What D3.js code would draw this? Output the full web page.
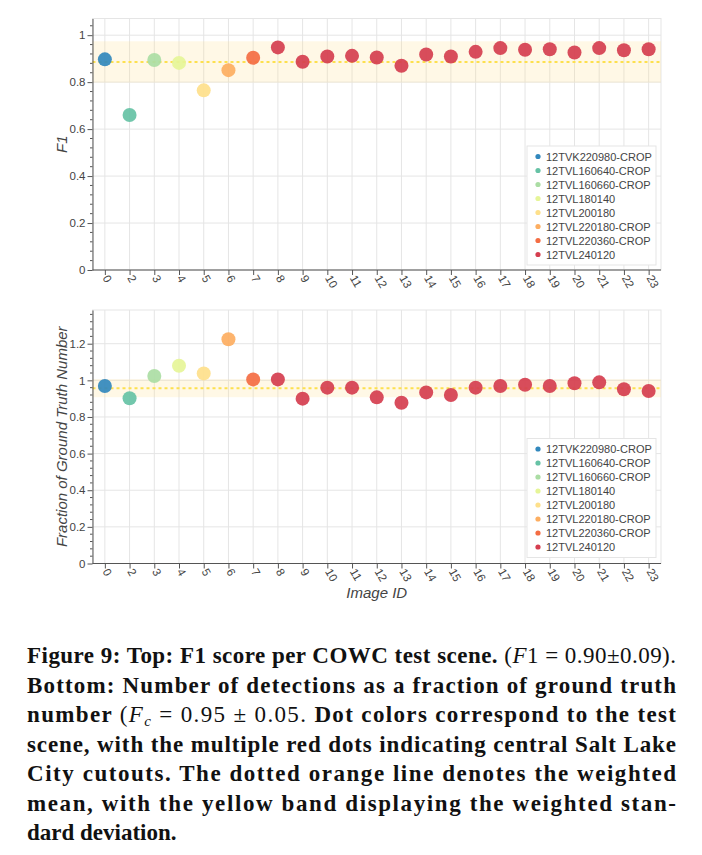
<!DOCTYPE html>
<html><head><meta charset="utf-8">
<script src="https://cdn.jsdelivr.net/npm/d3@7"></script>
<style>body{margin:0;background:#fff}</style></head>
<body><svg id="c" width="702" height="855"></svg>
<script>
const imageIds = ["0","2","3","4","5","6","7","8","9","10","11","12","13","14","15","16","17","18","19","20","21","22","23"];
const sceneNames = ["12TVK220980-CROP","12TVL160640-CROP","12TVL160660-CROP","12TVL180140","12TVL200180","12TVL220180-CROP","12TVL220360-CROP","12TVL240120"];
const sceneColors = ["#3288bd","#66c2a5","#abdda4","#e6f598","#fee08b","#fdae61","#f46d43","#d53e4f"];
const sceneOfImage = [0,1,2,3,4,5,6,7,7,7,7,7,7,7,7,7,7,7,7,7,7,7,7];
const f1Scores = [0.897,0.660,0.894,0.882,0.765,0.851,0.904,0.948,0.887,0.909,0.912,0.905,0.870,0.918,0.909,0.929,0.945,0.938,0.940,0.926,0.945,0.936,0.940];
const gtFractions = [0.969,0.902,1.024,1.080,1.038,1.224,1.005,1.005,0.900,0.960,0.960,0.907,0.878,0.934,0.920,0.960,0.969,0.976,0.969,0.984,0.989,0.951,0.942];
const f1MeanStd = [0.886, 0.088];
const fcMeanStd = [0.957, 0.049];
const yTicksTop = [0,0.2,0.4,0.6,0.8,1];
const yTicksBottom = [0,0.2,0.4,0.6,0.8,1,1.2];

const svg = d3.select("#c");
const X0 = 92.5, X1 = 661;
const font = "'Liberation Sans', Arial, sans-serif";
const x = d3.scalePoint().domain(imageIds).range([X0, X1]).padding(0.5);

function panel(o){
  const y = d3.scaleLinear().domain([0, o.ymax]).range([o.bottom, o.top]);
  const g = svg.append("g");
  g.selectAll(".vg").data(imageIds).join("line")
    .attr("x1", d=>x(d)).attr("x2", d=>x(d)).attr("y1", o.top).attr("y2", o.bottom)
    .attr("stroke", "#e5e5e5").attr("stroke-width", 1);
  g.selectAll(".hg").data(o.ticks).join("line")
    .attr("x1", X0).attr("x2", X1).attr("y1", d=>y(d)).attr("y2", d=>y(d))
    .attr("stroke", "#e5e5e5").attr("stroke-width", 1);
  g.append("rect").attr("x", X0).attr("y", o.top).attr("width", X1-X0).attr("height", o.bottom-o.top)
    .attr("fill","none").attr("stroke","#e5e5e5");
  const [m, s] = o.ms;
  g.append("rect").attr("x", X0).attr("width", X1-X0)
    .attr("y", y(m+s)).attr("height", y(m-s)-y(m+s))
    .attr("fill", "#fee08b").attr("fill-opacity", 0.22);
  g.append("line").attr("x1", X0).attr("x2", X1).attr("y1", y(m)).attr("y2", y(m))
    .attr("stroke", "#fde04f").attr("stroke-width", 2).attr("stroke-dasharray", "3,3");
  g.selectAll(".dot").data(o.values).join("circle")
    .attr("cx", (d,i)=>x(imageIds[i])).attr("cy", d=>y(d)).attr("r", 7)
    .attr("fill", (d,i)=>sceneColors[sceneOfImage[i]]).attr("fill-opacity", 0.92);
  const ya = g.append("g").attr("transform", `translate(${X0},0)`)
    .call(d3.axisLeft(y).tickValues(o.ticks).tickSize(5).tickSizeOuter(0).tickPadding(2).tickFormat(d3.format("~g")));
  ya.select(".domain").attr("stroke", "#555");
  ya.selectAll(".tick line").attr("stroke", "#555");
  ya.selectAll("text").attr("font-family", font).attr("font-size", 11.5).attr("fill", "#444");
  const minor = d3.range(0, o.ymax, 0.04).filter(v => Math.abs(v/0.2 - Math.round(v/0.2)) > 0.01);
  g.selectAll(".mt").data(minor).join("line")
    .attr("x1", X0-2.5).attr("x2", X0).attr("y1", d=>y(d)).attr("y2", d=>y(d))
    .attr("stroke", "#555");
  const xa = g.append("g").attr("transform", `translate(0,${o.bottom})`)
    .call(d3.axisBottom(x).tickSize(5).tickSizeOuter(0));
  xa.select(".domain").attr("stroke", "#555").attr("d", `M${X0},0H${X1}`);
  xa.selectAll(".tick line").attr("stroke", "#555");
  xa.selectAll("text").attr("font-family", font).attr("font-size", 11.5).attr("fill", "#444")
    .attr("text-anchor", "start").attr("dy", null).attr("y", 0)
    .attr("transform", "translate(-3,8) rotate(60)");
  g.append("text").attr("transform", `translate(67,${(o.top+o.bottom)/2}) rotate(-90)`)
    .attr("text-anchor", "middle").attr("font-family", font).attr("font-style", "italic")
    .attr("font-size", 15).attr("fill", "#444").text(o.ylabel);
  const lg = g.append("g");
  lg.append("rect").attr("x", 527).attr("y", o.legTop).attr("width", 129).attr("height", 119)
    .attr("fill", "#fff").attr("stroke", "#e5e5e5");
  const items = lg.selectAll(".li").data(sceneNames).join("g")
    .attr("transform", (d,i)=>`translate(0,${o.legTop + 10.5 + i*14})`);
  items.append("circle").attr("cx", 538).attr("cy", 0).attr("r", 2.6)
    .attr("fill", (d,i)=>sceneColors[i]);
  items.append("text").attr("x", 546).attr("y", 4).attr("font-family", font)
    .attr("font-size", 11).attr("fill", "#444").text(d=>d);
}

panel({top:18.5, bottom:270, ymax:1.071, values:f1Scores, ms:f1MeanStd, ticks:yTicksTop, ylabel:"F1", legTop:146});
panel({top:310, bottom:563.5, ymax:1.384, values:gtFractions, ms:fcMeanStd, ticks:yTicksBottom, ylabel:"Fraction of Ground Truth Number", legTop:438.5});

svg.append("text").attr("x", (X0+X1)/2).attr("y", 598).attr("text-anchor","middle")
  .attr("font-family", font).attr("font-style","italic").attr("font-size", 15).attr("fill","#444").text("Image ID");

const serif = "'Liberation Serif', 'Times New Roman', serif";
const capLines = [
  [["b","Figure 9: Top: F1 score per COWC test scene. "],["r","("],["i","F"],["r","1 = 0.90±0.09)."]],
  [["b","Bottom: Number of detections as a fraction of ground truth"]],
  [["b","number "],["r","("],["i","F"],["s","c"],["u"," = 0.95 ± 0.05. "],["b","Dot colors correspond to the test"]],
  [["b","scene, with the multiple red dots indicating central Salt Lake"]],
  [["b","City cutouts. The dotted orange line denotes the weighted"]],
  [["b","mean, with the yellow band displaying the weighted stan-"]],
  [["b","dard deviation."]]
];
const capY = [663, 692.5, 722, 751.5, 781, 810.5, 840];
capLines.forEach((line, li) => {
  const t = svg.append("text").attr("x", 27).attr("y", capY[li])
    .attr("font-family", serif).attr("font-size", 23).attr("fill", "#111");
  if (li < 6) t.attr("textLength", 649).attr("lengthAdjust", "spacing");
  line.forEach(([k, s]) => {
    const sp = t.append("tspan").text(s);
    if (k === "b") sp.attr("font-weight", "bold");
    if (k === "i") sp.attr("font-style", "italic");
    if (k === "s") sp.attr("font-style", "italic").attr("font-size", 15).attr("dy", 4);
    if (k === "u") sp.attr("dy", -4);
  });
});
</script></body></html>
